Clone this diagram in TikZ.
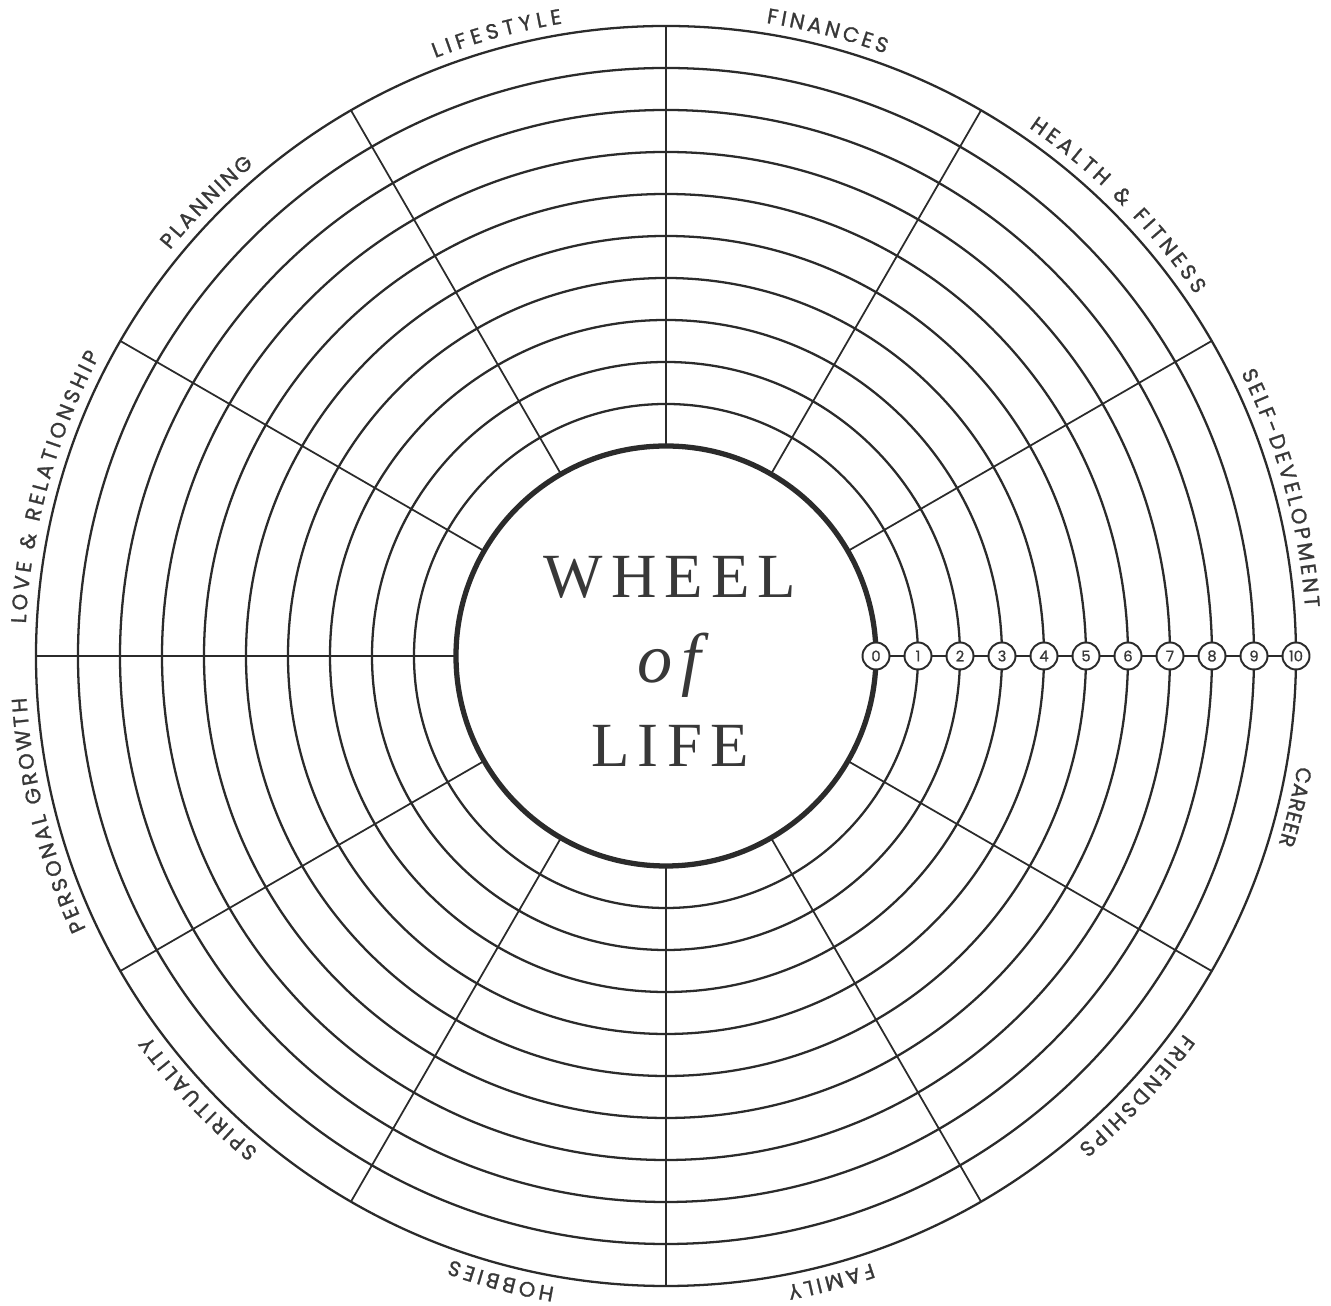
\documentclass[tikz,border=0pt]{standalone}
\usepackage{fontspec}
\usepackage{xcolor}
\usepackage{tikz}
\usetikzlibrary{decorations.text}
\definecolor{encre}{HTML}{2B2B2B}
\definecolor{texte}{HTML}{383838}
\newfontfamily\poppinslbl[FakeBold=1.2]{Poppins}
\newfontfamily\poppinsnum[FakeBold=0.8]{Poppins}
\newfontfamily\titreserif[LetterSpace=13]{Liberation Serif}
\newcommand{\lblfont}{\poppinslbl\fontsize{6pt}{6pt}\selectfont}
\newcommand{\secteur}[3]{% #1 angle de debut, #2 angle de fin (sens horaire), #3 libelle
  \path[decorate, decoration={text along path, text align={fit to path},
        text color=texte, text={|\lblfont|#3}}]
    (#1:6.41) arc[start angle=#1, end angle=#2, radius=6.41];}

\begin{document}
\begin{tikzpicture}[
    every node/.style={text=texte},
    anneau/.style={line width=0.65pt, color=encre},
    moyeu/.style={line width=1.5pt, color=encre},
    rayon/.style={line width=0.5pt, color=encre},
    grad/.style={circle, draw=encre, fill=white, line width=0.55pt, inner sep=0pt,
                 minimum size=0.27cm, font=\poppinsnum\fontsize{4.2pt}{4.2pt}\selectfont},
    lien/.style={line width=0.55pt, color=encre},
    titre/.style={anchor=base, font=\titreserif\fontsize{17.9pt}{18pt}\selectfont}
  ]
  \useasboundingbox (-6.66,-6.50) rectangle (6.65,6.56);

  % ---- anneaux de notation (1 a 10), puis le moyeu ----------------------
  \draw[anneau] (0,0) circle[radius=2.52];
  \draw[anneau] (0,0) circle[radius=2.94];
  \draw[anneau] (0,0) circle[radius=3.36];
  \draw[anneau] (0,0) circle[radius=3.78];
  \draw[anneau] (0,0) circle[radius=4.20];
  \draw[anneau] (0,0) circle[radius=4.62];
  \draw[anneau] (0,0) circle[radius=5.04];
  \draw[anneau] (0,0) circle[radius=5.46];
  \draw[anneau] (0,0) circle[radius=5.88];
  \draw[anneau] (0,0) circle[radius=6.30];
  \draw[moyeu] (0,0) circle[radius=2.10];

  % ---- rayons separant les douze secteurs -------------------------------
  \draw[rayon] (30:2.10)  -- (30:6.30);
  \draw[rayon] (60:2.10)  -- (60:6.30);
  \draw[rayon] (90:2.10)  -- (90:6.30);
  \draw[rayon] (120:2.10) -- (120:6.30);
  \draw[rayon] (150:2.10) -- (150:6.30);
  \draw[rayon] (180:2.10) -- (180:6.30);
  \draw[rayon] (210:2.10) -- (210:6.30);
  \draw[rayon] (240:2.10) -- (240:6.30);
  \draw[rayon] (270:2.10) -- (270:6.30);
  \draw[rayon] (300:2.10) -- (300:6.30);
  \draw[rayon] (330:2.10) -- (330:6.30);

  % ---- libelles courbes, lus dans le sens horaire -----------------------
  % bornes relevees sur l'original : le texte est etire pour les remplir
  \secteur{81.0}{70.0}{FINANCES}
  \secteur{55.5}{34.3}{HEALTH {\&} FITNESS}
  \secteur{26.2}{4.3}{SELF-DEVELOPMENT}
  \secteur{-9.9}{-17.1}{CAREER}
  \secteur{-36.1}{-50.0}{FRIENDSHIPS}
  \secteur{-71.3}{-79.1}{FAMILY}
  \secteur{-100.0}{-109.6}{HOBBIES}
  \secteur{-129.5}{-143.7}{SPIRITUALITY}
  \secteur{-154.8}{-176.3}{PERSONAL GROWTH}
  \secteur{177.1}{152.0}{LOVE {\&} RELATIONSHIP}
  \secteur{140.7}{130.0}{PLANNING}
  \secteur{111.1}{99.3}{LIFESTYLE}

  % ---- echelle 0--10 sur le rayon horizontal ----------------------------
  \node[grad] (m0)  at (2.10,0) {0};
  \node[grad] (m1)  at (2.52,0) {1};
  \node[grad] (m2)  at (2.94,0) {2};
  \node[grad] (m3)  at (3.36,0) {3};
  \node[grad] (m4)  at (3.78,0) {4};
  \node[grad] (m5)  at (4.20,0) {5};
  \node[grad] (m6)  at (4.62,0) {6};
  \node[grad] (m7)  at (5.04,0) {7};
  \node[grad] (m8)  at (5.46,0) {8};
  \node[grad] (m9)  at (5.88,0) {9};
  \node[grad] (m10) at (6.30,0) {10};
  \draw[lien] (m0) -- (m1) -- (m2) -- (m3) -- (m4) -- (m5)
              -- (m6) -- (m7) -- (m8) -- (m9) -- (m10);

  % ---- titre au centre ---------------------------------------------------
  \node[titre] (wheel) at (0.04,0.58)  {WHEEL};
  \node[titre, font=\titreserif\itshape\fontsize{20pt}{21pt}\selectfont]
    (of) at (0.03,-0.27) {of};
  \node[titre] (life)  at (0.04,-1.11) {LIFE};

\end{tikzpicture}
\end{document}
